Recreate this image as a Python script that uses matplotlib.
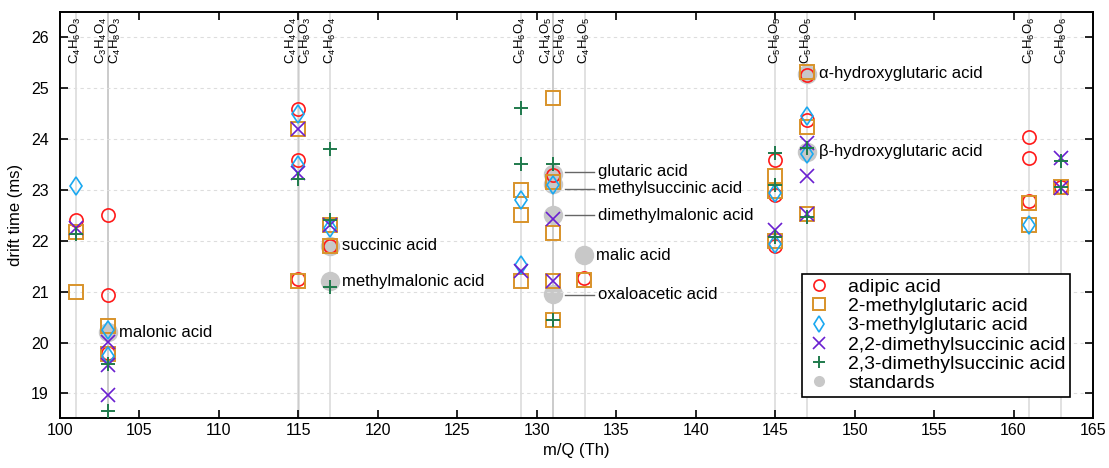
import matplotlib
matplotlib.use('Agg')
import matplotlib.pyplot as plt
from matplotlib.lines import Line2D

plt.rcParams['font.family'] = ['Liberation Sans', 'DejaVu Sans']
plt.rcParams['mathtext.fontset'] = 'custom'
plt.rcParams['mathtext.rm'] = 'Liberation Sans'
plt.rcParams['mathtext.default'] = 'regular'

# formula guide lines (m/Q of the deprotonated ions) and their labels
formula_mq = [101.02, 103.00, 103.04, 115.00, 115.04, 117.02, 129.02, 131.00, 131.04,
              133.01, 145.01, 147.03, 160.99, 163.01]
formula_labels = ['C$_4$H$_6$O$_3$', 'C$_3$H$_4$O$_4$', 'C$_4$H$_8$O$_3$', 'C$_4$H$_4$O$_4$',
                  'C$_5$H$_8$O$_3$', 'C$_4$H$_6$O$_4$', 'C$_5$H$_6$O$_4$', 'C$_4$H$_4$O$_5$',
                  'C$_5$H$_8$O$_4$', 'C$_4$H$_6$O$_5$', 'C$_5$H$_6$O$_5$', 'C$_5$H$_8$O$_5$',
                  'C$_5$H$_6$O$_6$', 'C$_5$H$_8$O$_6$']

# series data: m/Q (Th) and drift time (ms)
adipic_x = [101, 103, 103, 103, 115, 115, 115, 117, 131, 133, 145, 145, 145, 147, 147, 161, 161, 161, 163]
adipic_y = [22.40, 22.50, 20.93, 19.80, 24.59, 23.58, 21.25, 21.90, 23.30, 21.26, 23.58, 22.90, 21.90,
            25.25, 24.38, 24.03, 23.63, 22.78, 23.05]

mglut2_x = [101, 101, 103, 103, 115, 115, 117, 117, 129, 129, 129, 131, 131, 131, 131, 131, 133,
            145, 145, 145, 147, 147, 147, 161, 161, 163]
mglut2_y = [22.18, 21.00, 20.32, 19.78, 24.20, 21.20, 22.30, 21.90, 23.00, 22.50, 21.20, 24.80, 23.15,
            22.15, 21.20, 20.45, 21.22, 23.28, 22.97, 22.00, 25.32, 24.24, 22.52, 22.74, 22.31, 23.06]

mglut3_x = [101, 103, 103, 115, 115, 117, 129, 129, 131, 145, 145, 147, 147, 161]
mglut3_y = [23.07, 20.25, 19.73, 24.48, 23.48, 22.25, 22.80, 21.52, 23.10, 22.93, 21.93, 24.45, 23.70, 22.30]

dms22_x = [101, 103, 103, 103, 115, 115, 117, 129, 131, 131, 145, 147, 147, 147, 163, 163]
dms22_y = [22.25, 20.01, 19.55, 18.98, 24.20, 23.33, 22.30, 21.40, 22.42, 21.20, 22.22, 23.92, 23.28,
           22.52, 23.62, 23.04]

dms23_x = [101, 103, 103, 115, 117, 117, 117, 129, 129, 131, 131, 145, 145, 145, 147, 147, 163, 163]
dms23_y = [22.13, 19.58, 18.66, 23.22, 23.80, 22.40, 21.10, 24.60, 23.50, 23.50, 20.45, 23.73, 23.10,
           22.08, 23.82, 22.47, 23.56, 23.05]

std_names = ['malonic acid', 'succinic acid', 'methylmalonic acid', 'glutaric acid',
             'methylsuccinic acid', 'dimethylmalonic acid', 'malic acid', 'oxaloacetic acid',
             'α-hydroxyglutaric acid', 'β-hydroxyglutaric acid']
std_x = [103, 117, 117, 131, 131, 131, 133, 131, 147, 147]
std_y = [20.20, 21.90, 21.20, 23.32, 23.12, 22.50, 21.72, 20.96, 25.28, 23.75]

fig, ax = plt.subplots(figsize=(11.09, 4.68), dpi=100)
fig.subplots_adjust(left=0.054, right=0.9856, bottom=0.107, top=0.974)

ax.set_xlim(100, 165)
ax.set_ylim(18.52, 26.49)

# guide lines and formula labels
for i, (mq, lab) in enumerate(zip(formula_mq, formula_labels)):
    ax.axvline(mq, color='#999999', alpha=0.35, lw=1.2, zorder=0)
    pair_prev = i > 0 and abs(formula_mq[i - 1] - mq) < 0.2
    pair_next = i < len(formula_mq) - 1 and abs(formula_mq[i + 1] - mq) < 0.2
    dx = -0.4 if pair_next else (0.48 if pair_prev else 0.0)
    ax.text(round(mq) + dx, 0.99, lab, rotation=90, ha='center', va='top', fontsize=9.5,
            transform=ax.get_xaxis_transform())

ax.yaxis.grid(True, ls=(0, (3, 3)), color='#dddddd', lw=0.8, zorder=0)

# standards behind the measured points
ax.plot(std_x, std_y, 'o', color='#c8c8c8', ms=14, mec='none', zorder=1)

ax.plot(adipic_x, adipic_y, 'o', mfc='none', mec='#ff1a1a', mew=1.2, ms=9.5, zorder=3)
ax.plot(mglut2_x, mglut2_y, 's', mfc='none', mec='#d8932a', mew=1.4, ms=9.5, zorder=3)
ax.plot(mglut3_x, mglut3_y, 'd', mfc='none', mec='#1aa8f0', mew=1.2, ms=9.5, zorder=3)
ax.plot(dms22_x, dms22_y, 'x', color='#6a1fd0', mew=1.2, ms=9.5, zorder=3)
ax.plot(dms23_x, dms23_y, '+', color='#1f7a4c', mew=1.4, ms=10, zorder=3)

# labels for standards
leader = {'glutaric acid': 23.36, 'methylsuccinic acid': 23.02,
          'dimethylmalonic acid': 22.50, 'oxaloacetic acid': 20.94}
for name, x, y in zip(std_names, std_x, std_y):
    if name in leader:
        ly = leader[name]
        ax.plot([x + 0.8, x + 2.6], [ly, ly], color='#666666', lw=1, zorder=2)
        ax.text(x + 2.85, ly, name, fontsize=12, va='center', ha='left')
    else:
        ax.text(x + 0.75, y, name, fontsize=12, va='center', ha='left')

ax.set_xticks(range(100, 166, 5))
ax.set_yticks(range(19, 27))
ax.tick_params(direction='in', length=6, width=1.2, top=True, right=True, labelsize=11.5)
ax.tick_params(axis='y', pad=8)
for sp in ax.spines.values():
    sp.set_linewidth(1.4)
ax.set_xlabel('m/Q (Th)', fontsize=12)
ax.set_ylabel('drift time (ms)', fontsize=12, labelpad=6)

handles = [
    Line2D([], [], ls='none', marker='o', mfc='none', mec='#ff1a1a', mew=1.2, ms=8),
    Line2D([], [], ls='none', marker='s', mfc='none', mec='#d8932a', mew=1.4, ms=8),
    Line2D([], [], ls='none', marker='d', mfc='none', mec='#1aa8f0', mew=1.2, ms=8),
    Line2D([], [], ls='none', marker='x', color='#6a1fd0', mew=1.2, ms=8),
    Line2D([], [], ls='none', marker='+', color='#1f7a4c', mew=1.4, ms=9),
    Line2D([], [], ls='none', marker='o', color='#c8c8c8', mec='none', ms=8),
]
labels = ['adipic acid', '2-methylglutaric acid', '3-methylglutaric acid',
          '2,2-dimethylsuccinic acid', '2,3-dimethylsuccinic acid', 'standards']
leg = ax.legend(handles, labels, loc='lower right', bbox_to_anchor=(0.978, 0.052), fontsize=14,
                labelspacing=0.08, handlelength=1.2, handletextpad=0.9, borderpad=0.25,
                borderaxespad=0, fancybox=False, framealpha=1, edgecolor='black')
leg.get_frame().set_linewidth(1.2)

fig.savefig('out.png', dpi=100)
